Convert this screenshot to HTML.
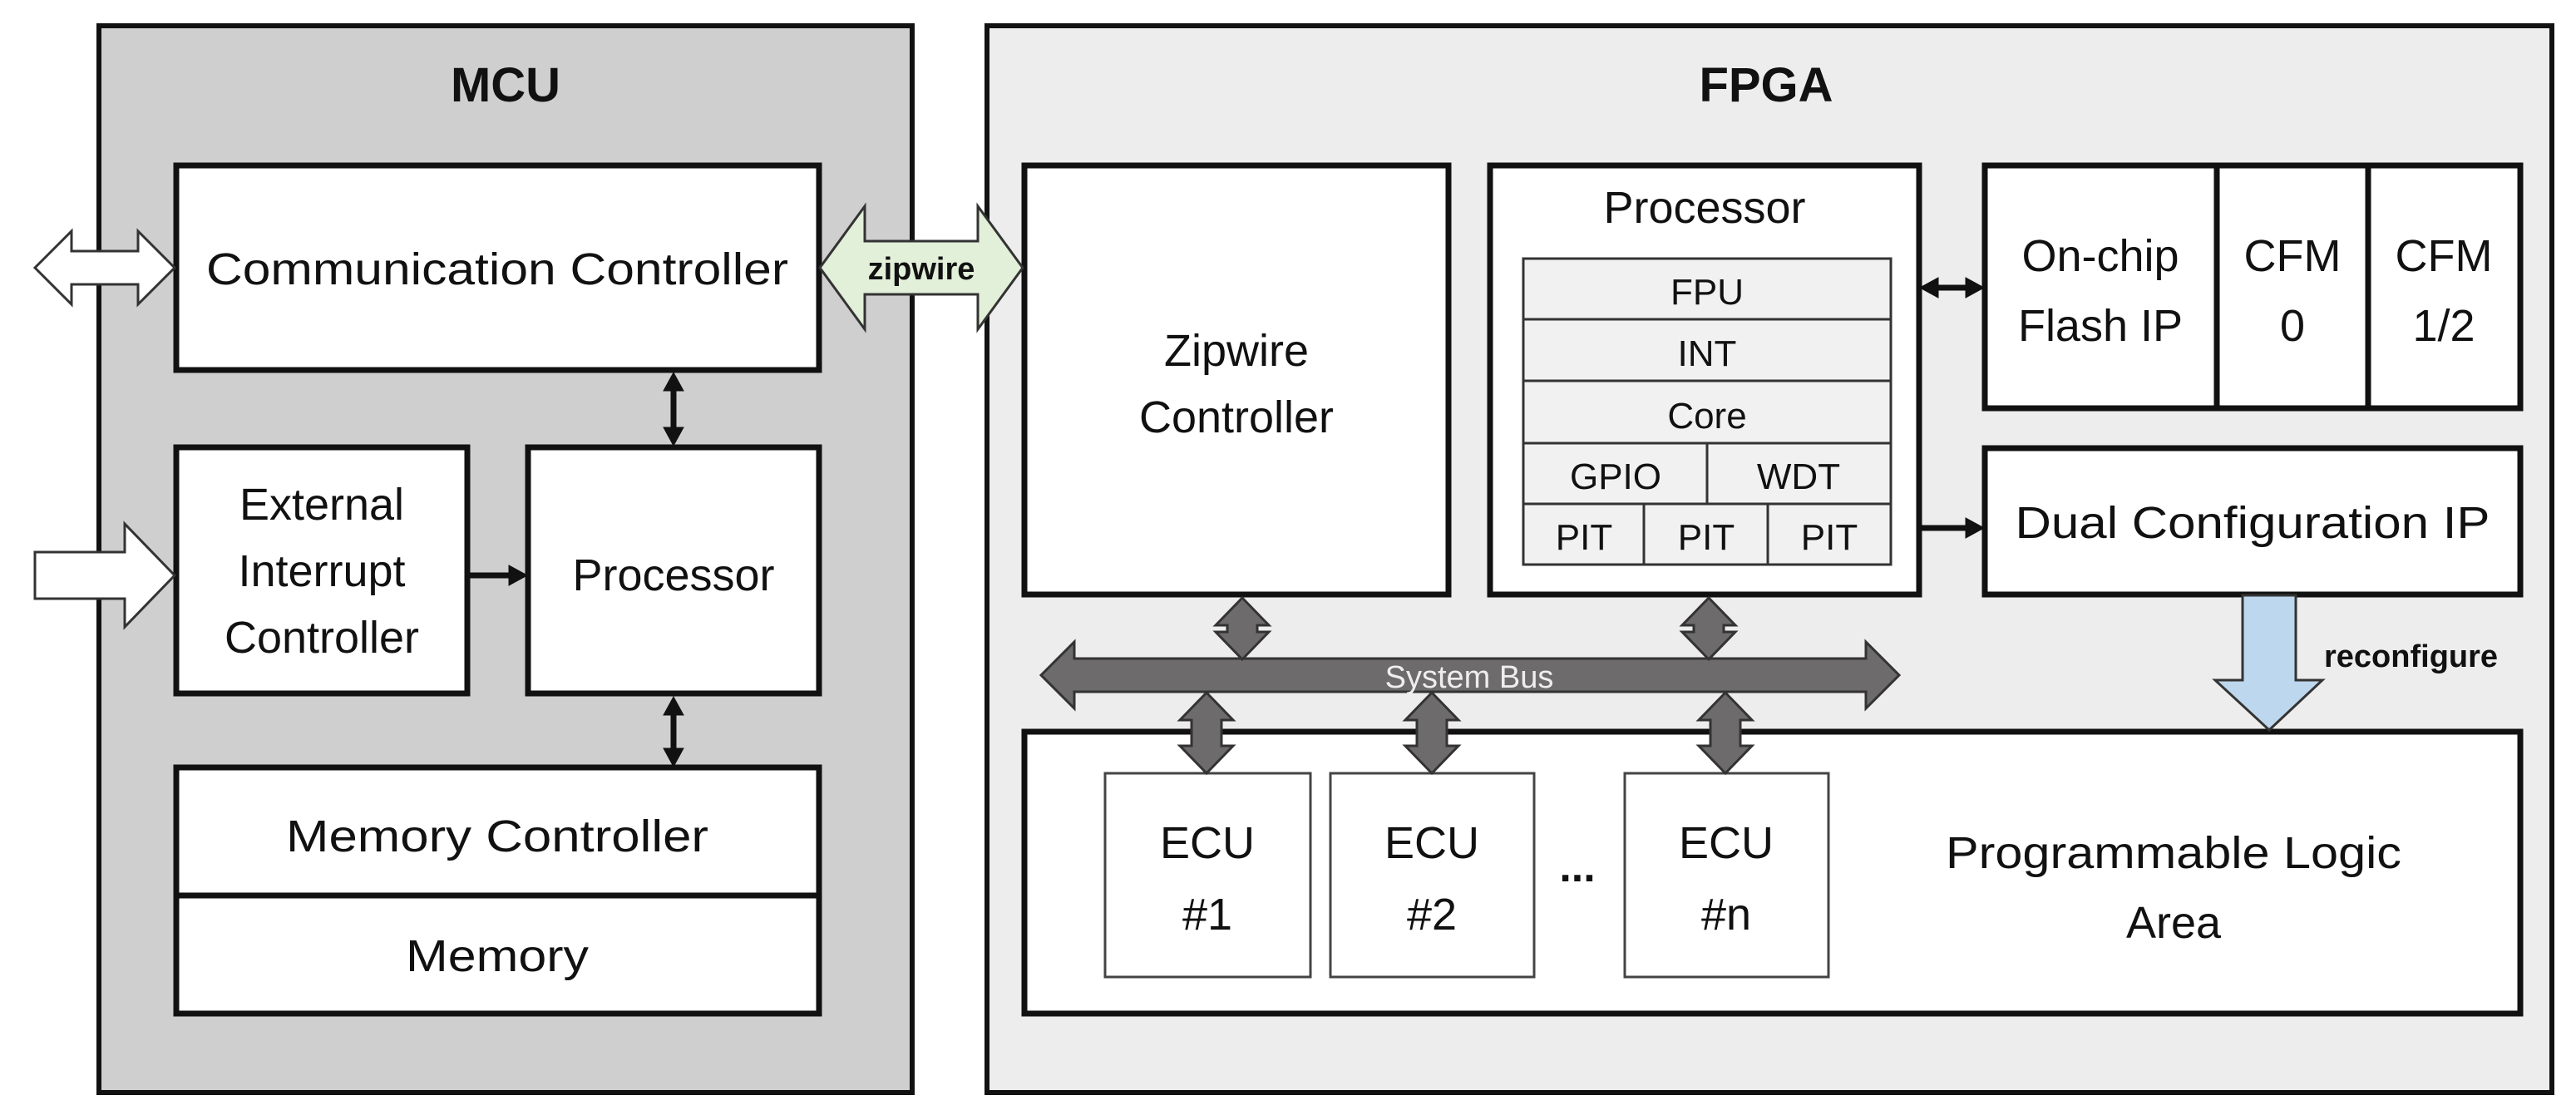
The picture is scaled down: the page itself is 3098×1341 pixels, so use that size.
<!DOCTYPE html>
<html><head><meta charset="utf-8"><style>
html,body{margin:0;padding:0;background:#fff}
svg{display:block}
text{font-family:"Liberation Sans",sans-serif;fill:#111}
</style></head><body>
<svg width="3098" height="1341" viewBox="0 0 3098 1341" xmlns="http://www.w3.org/2000/svg">
<!-- MCU -->
<rect x="119" y="31" width="978" height="1283" fill="#d0cfd0" stroke="#111" stroke-width="6"/>
<text x="608" y="122" font-size="58" font-weight="bold" text-anchor="middle">MCU</text>
<!-- FPGA -->
<rect x="1187" y="31" width="1882" height="1283" fill="#ededed" stroke="#111" stroke-width="6"/>
<text x="2124" y="122" font-size="58" font-weight="bold" text-anchor="middle">FPGA</text>

<g stroke="#111" stroke-width="7" fill="#fff">
<rect x="212" y="199" width="773" height="246"/>
<rect x="212" y="538" width="350" height="296"/>
<rect x="635" y="538" width="350" height="296"/>
<rect x="212" y="923" width="773" height="154"/>
<rect x="212" y="1077" width="773" height="142"/>
<rect x="1232" y="199" width="510" height="516"/>
<rect x="1792" y="199" width="516" height="516"/>
<rect x="2387" y="199" width="644" height="292"/>
<line x1="2666" y1="199" x2="2666" y2="491"/>
<line x1="2848" y1="199" x2="2848" y2="491"/>
<rect x="2387" y="539" width="644" height="176"/>
<rect x="1232" y="880" width="1799" height="339"/>
</g>

<!-- processor stack -->
<g stroke="#333" stroke-width="3" fill="#f1f1f1">
<rect x="1832" y="311" width="442" height="368"/>
<line x1="1832" y1="384" x2="2274" y2="384"/>
<line x1="1832" y1="458" x2="2274" y2="458"/>
<line x1="1832" y1="533" x2="2274" y2="533"/>
<line x1="1832" y1="606" x2="2274" y2="606"/>
<line x1="2053" y1="533" x2="2053" y2="606"/>
<line x1="1977" y1="606" x2="1977" y2="679"/>
<line x1="2126" y1="606" x2="2126" y2="679"/>
</g>

<!-- ECUs -->
<g stroke="#444" stroke-width="3" fill="#fff">
<rect x="1329" y="930" width="247" height="245"/>
<rect x="1600" y="930" width="245" height="245"/>
<rect x="1954" y="930" width="245" height="245"/>
</g>

<!-- texts -->
<g font-size="54" text-anchor="middle">
<text x="598" y="342" textLength="700" lengthAdjust="spacingAndGlyphs">Communication Controller</text>
<text x="387" y="625">External</text>
<text x="387" y="705">Interrupt</text>
<text x="387" y="785">Controller</text>
<text x="810" y="710">Processor</text>
<text x="598" y="1024" textLength="508" lengthAdjust="spacingAndGlyphs">Memory Controller</text>
<text x="598" y="1168" textLength="220" lengthAdjust="spacingAndGlyphs">Memory</text>
<text x="1487" y="440">Zipwire</text>
<text x="1487" y="520">Controller</text>
<text x="2050" y="268">Processor</text>
<text x="2526" y="326">On-chip</text>
<text x="2526" y="410">Flash IP</text>
<text x="2757" y="326">CFM</text>
<text x="2757" y="410">0</text>
<text x="2939" y="326">CFM</text>
<text x="2939" y="410">1/2</text>
<text x="2709" y="647" textLength="571" lengthAdjust="spacingAndGlyphs">Dual Configuration IP</text>
<text x="1452" y="1032">ECU</text>
<text x="1452" y="1118">#1</text>
<text x="1722" y="1032">ECU</text>
<text x="1722" y="1118">#2</text>
<text x="2076" y="1032">ECU</text>
<text x="2076" y="1118">#n</text>
<text x="2614" y="1044" textLength="548" lengthAdjust="spacingAndGlyphs">Programmable Logic</text>
<text x="2614" y="1128">Area</text>
</g>
<g font-size="44" text-anchor="middle">
<text x="2053" y="366">FPU</text>
<text x="2053" y="440">INT</text>
<text x="2053" y="515">Core</text>
<text x="1943" y="588">GPIO</text>
<text x="2163" y="588">WDT</text>
<text x="1905" y="661">PIT</text>
<text x="2052" y="661">PIT</text>
<text x="2200" y="661">PIT</text>
</g>
<text x="1897" y="1060" font-size="52" font-weight="bold" text-anchor="middle">...</text>

<!-- Left external arrows -->
<polygon points="42,322 86,278 86,302 166,302 166,278 210,322 166,366 166,342 86,342 86,366" fill="#fff" stroke="#333" stroke-width="3"/>
<polygon points="42,664 150,664 150,630 210,692 150,754 150,720 42,720" fill="#fff" stroke="#333" stroke-width="3"/>
<!-- zipwire arrow -->
<polygon points="986,322 1040,248 1040,290 1176,290 1176,248 1230,322 1176,396 1176,354 1040,354 1040,396" fill="#e2efd9" stroke="#333" stroke-width="3"/>
<text x="1108" y="336" font-size="38" font-weight="bold" text-anchor="middle">zipwire</text>

<!-- small black arrows -->
<g fill="#111" stroke="#111">
<line x1="810" y1="460" x2="810" y2="524" stroke-width="7"/>
<polygon points="810,448 798,470 822,470" />
<polygon points="810,536 798,514 822,514" />
<line x1="810" y1="850" x2="810" y2="910" stroke-width="7"/>
<polygon points="810,838 798,860 822,860" />
<polygon points="810,922 798,900 822,900" />
<line x1="562" y1="692" x2="620" y2="692" stroke-width="7"/>
<polygon points="634,692 612,680 612,704"/>
<line x1="2320" y1="346" x2="2375" y2="346" stroke-width="7"/>
<polygon points="2309,346 2331,334 2331,358"/>
<polygon points="2386,346 2364,334 2364,358"/>
<line x1="2308" y1="635" x2="2370" y2="635" stroke-width="7"/>
<polygon points="2386,635 2364,623 2364,647"/>
</g>

<!-- system bus -->
<g fill="#6d6b6b" stroke="#333" stroke-width="3">
<polygon points="1252,812 1292,772 1292,792 2244,792 2244,772 2284,812 2244,852 2244,832 1292,832 1292,852"/>
<polygon points="1494,719 1526,752 1512,752 1512,760 1526,760 1494,793 1462,760 1476,760 1476,752 1462,752"/>
<polygon points="2055,719 2087,752 2073,752 2073,760 2087,760 2055,793 2023,760 2037,760 2037,752 2023,752"/>
<polygon points="1451,833 1483,866 1469,866 1469,897 1483,897 1451,930 1419,897 1433,897 1433,866 1419,866"/>
<polygon points="1722,833 1754,866 1740,866 1740,897 1754,897 1722,930 1690,897 1704,897 1704,866 1690,866"/>
<polygon points="2075,833 2107,866 2093,866 2093,897 2107,897 2075,930 2043,897 2057,897 2057,866 2043,866"/>
</g>
<text x="1767" y="827" font-size="38" text-anchor="middle" style="fill:#eee">System Bus</text>

<!-- reconfigure arrow -->
<polygon points="2697,716 2761,716 2761,818 2793,818 2729,878 2664,818 2697,818" fill="#bdd7ee" stroke="#333" stroke-width="3"/>
<text x="2795" y="802" font-size="38" font-weight="bold">reconfigure</text>
</svg>
</body></html>
